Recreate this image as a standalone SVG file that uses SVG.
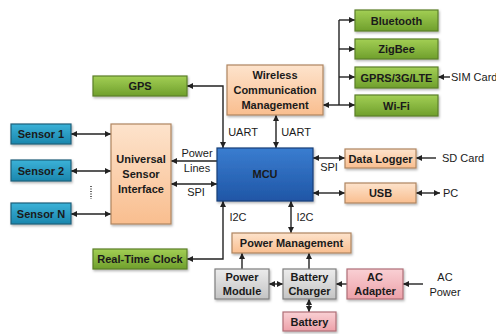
<svg xmlns="http://www.w3.org/2000/svg" width="496" height="334" viewBox="0 0 496 334">
<defs>
<linearGradient id="gGreen" x1="0" y1="0" x2="0" y2="1"><stop offset="0" stop-color="#a3cf55"/><stop offset="1" stop-color="#6f9f2c"/></linearGradient>
<linearGradient id="gBlue" x1="0" y1="0" x2="0" y2="1"><stop offset="0" stop-color="#3bb2d8"/><stop offset="1" stop-color="#1b86ad"/></linearGradient>
<linearGradient id="gOrange" x1="0" y1="0" x2="0" y2="1"><stop offset="0" stop-color="#fde3cc"/><stop offset="1" stop-color="#f9be8f"/></linearGradient>
<linearGradient id="gMcu" x1="0" y1="0" x2="0" y2="1"><stop offset="0" stop-color="#3a7dd0"/><stop offset="1" stop-color="#1f56a6"/></linearGradient>
<linearGradient id="gGray" x1="0" y1="0" x2="0" y2="1"><stop offset="0" stop-color="#ececec"/><stop offset="1" stop-color="#c4c4c4"/></linearGradient>
<linearGradient id="gPink" x1="0" y1="0" x2="0" y2="1"><stop offset="0" stop-color="#f9d0d4"/><stop offset="1" stop-color="#eda1a9"/></linearGradient>
<filter id="sh" x="-10%" y="-10%" width="130%" height="140%"><feDropShadow dx="1" dy="1.5" stdDeviation="1" flood-color="#000" flood-opacity="0.3"/></filter>
<marker id="ah" viewBox="0 0 10 10" refX="10" refY="5" markerWidth="6" markerHeight="6" markerUnits="userSpaceOnUse" orient="auto-start-reverse"><path d="M0 0 L10 5 L0 10 Z" fill="#222"/></marker>
</defs>
<style>
.box{stroke-width:1.2;filter:url(#sh)}
.green{fill:url(#gGreen);stroke:#5a7f2a}
.blue{fill:url(#gBlue);stroke:#1c5f7a}
.orange{fill:url(#gOrange);stroke:#b08560}
.mcu{fill:url(#gMcu);stroke:#1a3f78}
.gray{fill:url(#gGray);stroke:#7f7f7f}
.pink{fill:url(#gPink);stroke:#b06f77}
.t{font-family:"Liberation Sans",Arial,sans-serif;font-size:11px;font-weight:bold;fill:#1a1a1a;text-anchor:middle}
.l{font-family:"Liberation Sans",Arial,sans-serif;font-size:11px;fill:#1a1a1a}
.c{fill:none;stroke:#222;stroke-width:1.4}
.m2{marker-start:url(#ah);marker-end:url(#ah)}
.m1{marker-end:url(#ah)}
</style>

<g id="connectors">
<path class="c m2" d="M223 148 V86 H187"/>
<path class="c m2" d="M276 115 V148"/>
<path class="c" d="M339 20 V105"/>
<path class="c m1" d="M339 20 H355"/>
<path class="c m1" d="M339 49 H355"/>
<path class="c m1" d="M339 77 H355"/>
<path class="c m2" d="M323 105 H355"/>
<path class="c m1" d="M450 77 H438"/>
<path class="c m2" d="M313 158 H345"/>
<path class="c m1" d="M436 158 H416"/>
<path class="c m2" d="M313 193 H345"/>
<path class="c m2" d="M416 193 H440"/>
<path class="c m2" d="M291 201 V233"/>
<path class="c m2" d="M223 201 V259 H187"/>
<path class="c m1" d="M217 161 H171"/>
<path class="c m2" d="M171 184 H217"/>
<path class="c m2" d="M71 134 H111"/>
<path class="c m2" d="M71 171 H111"/>
<path class="c m2" d="M71 214 H111"/>
<path class="c m1" d="M242 269 V253"/>
<path class="c m1" d="M309 269 V253"/>
<path class="c m2" d="M269 284 H283"/>
<path class="c m1" d="M347 284 H336"/>
<path class="c m1" d="M423 284 H403"/>
<path class="c m2" d="M309 299 V312"/>
<path d="M91 186 V199" fill="none" stroke="#333" stroke-width="1.5" stroke-dasharray="1,1.5"/>
</g>

<g id="gps"><rect class="box green" x="93" y="76" width="94" height="20"/><text class="t" x="140" y="90">GPS</text></g>
<g id="wireless"><rect class="box orange" x="227" y="65" width="96" height="50"/><text class="t" x="275" y="79">Wireless</text><text class="t" x="275" y="94">Communication</text><text class="t" x="275" y="109">Management</text></g>
<g id="bluetooth"><rect class="box green" x="355" y="10" width="83" height="21"/><text class="t" x="396.5" y="24.5">Bluetooth</text></g>
<g id="zigbee"><rect class="box green" x="355" y="39" width="83" height="20"/><text class="t" x="396.5" y="53">ZigBee</text></g>
<g id="gprs"><rect class="box green" x="355" y="67" width="83" height="21"/><text class="t" x="396.5" y="81.5">GPRS/3G/LTE</text></g>
<g id="wifi"><rect class="box green" x="355" y="95" width="83" height="21"/><text class="t" x="396.5" y="109.5">Wi-Fi</text></g>
<g id="mcu"><rect class="box mcu" x="217" y="148" width="96" height="53"/><text class="t" x="265" y="178" fill="#1a2a4a">MCU</text></g>
<g id="usi"><rect class="box orange" x="111" y="124" width="60" height="100"/><text class="t" x="141" y="163">Universal</text><text class="t" x="141" y="178">Sensor</text><text class="t" x="141" y="193">Interface</text></g>
<g id="sensor1"><rect class="box blue" x="11" y="124" width="60" height="20"/><text class="t" x="41" y="138">Sensor 1</text></g>
<g id="sensor2"><rect class="box blue" x="11" y="160" width="60" height="21"/><text class="t" x="41" y="174.5">Sensor 2</text></g>
<g id="sensorN"><rect class="box blue" x="11" y="203" width="60" height="21"/><text class="t" x="41" y="217.5">Sensor N</text></g>
<g id="datalogger"><rect class="box orange" x="345" y="149" width="71" height="19"/><text class="t" x="380.5" y="162.5">Data Logger</text></g>
<g id="usb"><rect class="box orange" x="345" y="183" width="71" height="20"/><text class="t" x="380.5" y="197">USB</text></g>
<g id="rtc"><rect class="box green" x="93" y="249" width="94" height="20"/><text class="t" x="140" y="263">Real-Time Clock</text></g>
<g id="powermgmt"><rect class="box orange" x="232" y="233" width="119" height="20"/><text class="t" x="291.5" y="247">Power Management</text></g>
<g id="powermodule"><rect class="box gray" x="215" y="269" width="54" height="30"/><text class="t" x="242" y="281">Power</text><text class="t" x="242" y="295">Module</text></g>
<g id="charger"><rect class="box gray" x="283" y="269" width="53" height="30"/><text class="t" x="309.5" y="281">Battery</text><text class="t" x="309.5" y="295">Charger</text></g>
<g id="acadapter"><rect class="box pink" x="347" y="269" width="56" height="30"/><text class="t" x="375" y="281">AC</text><text class="t" x="375" y="295">Adapter</text></g>
<g id="battery"><rect class="box pink" x="283" y="312" width="53" height="19"/><text class="t" x="309.5" y="325.5">Battery</text></g>

<g id="labels">
<text class="l" x="243" y="136" text-anchor="middle">UART</text>
<text class="l" x="296" y="136" text-anchor="middle">UART</text>
<text class="l" x="197" y="157" text-anchor="middle">Power</text>
<text class="l" x="197" y="172" text-anchor="middle">Lines</text>
<text class="l" x="196" y="196" text-anchor="middle">SPI</text>
<text class="l" x="329" y="171" text-anchor="middle">SPI</text>
<text class="l" x="238" y="221" text-anchor="middle">I2C</text>
<text class="l" x="305" y="221" text-anchor="middle">I2C</text>
<text class="l" x="451" y="81">SIM Card</text>
<text class="l" x="442" y="162">SD Card</text>
<text class="l" x="443" y="197">PC</text>
<text class="l" x="445" y="281" text-anchor="middle">AC</text>
<text class="l" x="445" y="296" text-anchor="middle">Power</text>
</g>
</svg>
